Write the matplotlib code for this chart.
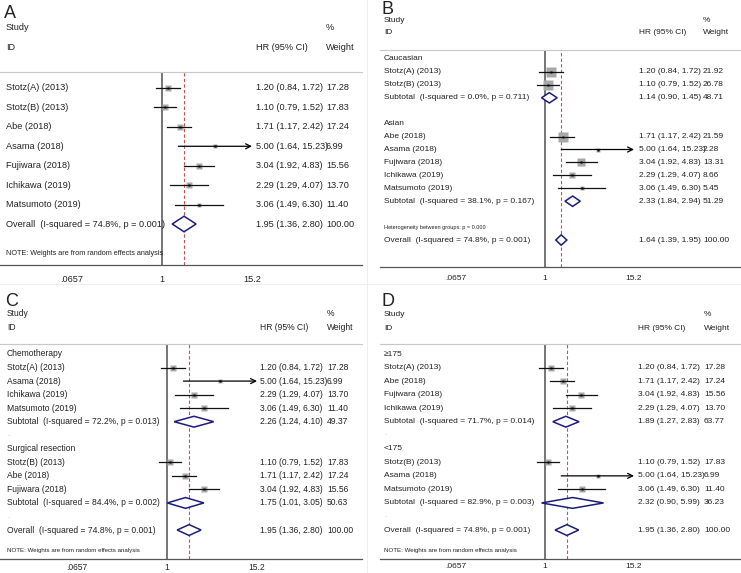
import matplotlib.pyplot as plt
from matplotlib.lines import Line2D
from matplotlib.transforms import blended_transform_factory
import numpy as np

plt.rcParams['font.family'] = ['Liberation Sans', 'DejaVu Sans']

# study level data
study = ["Stotz(A) (2013)", "Stotz(B) (2013)", "Abe (2018)", "Asama (2018)",
         "Fujiwara (2018)", "Ichikawa (2019)", "Matsumoto (2019)"]
hr = [1.20, 1.10, 1.71, 5.00, 3.04, 2.29, 3.06]
lo = [0.84, 0.79, 1.17, 1.64, 1.92, 1.29, 1.49]
hi = [1.72, 1.52, 2.42, 15.23, 4.83, 4.07, 6.30]
wt_all = [17.28, 17.83, 17.24, 6.99, 15.56, 13.70, 11.40]
wt_eth = [21.92, 26.78, 21.59, 2.28, 13.31, 8.66, 5.45]

# overall estimates
ov_all = (1.95, 1.36, 2.80)
ov_eth = (1.64, 1.39, 1.95)
ov_i2, ov_p = 74.8, 0.001

# B: ethnicity
eth_groups = ["Caucasian", "Asian"]
eth_members = [[0, 1], [2, 3, 4, 5, 6]]
eth_sub = [(1.14, 0.90, 1.45), (2.33, 1.84, 2.94)]
eth_sub_w = [48.71, 51.29]
eth_i2 = [0.0, 38.1]
eth_p = [0.711, 0.167]

# C: treatment
trt_groups = ["Chemotherapy", "Surgical resection"]
trt_members = [[0, 3, 5, 6], [1, 2, 4]]
trt_sub = [(2.26, 1.24, 4.10), (1.75, 1.01, 3.05)]
trt_sub_w = [49.37, 50.63]
trt_i2 = [72.2, 84.4]
trt_p = [0.013, 0.002]

# D: cut-off
cut_groups = ["≥175", "<175"]
cut_members = [[0, 2, 4, 5], [1, 3, 6]]
cut_sub = [(1.89, 1.27, 2.83), (2.32, 0.90, 5.99)]
cut_sub_w = [63.77, 36.23]
cut_i2 = [71.7, 82.9]
cut_p = [0.014, 0.003]

tick_vals = [0.0657, 1, 15.2]
tick_labels = [".0657", "1", "15.2"]
xcap = 15.2

W, H = 741, 573
fig = plt.figure(figsize=(W / 100, H / 100), dpi=100)

TXT = '#222222'
BOX = '#a8a8a8'
NAVY = '#1c1c7c'

# header positions (fig px): Study, ID, letter
top_hdr = {'A': (28, 47, 13), 'B': (21, 33, 9), 'C': (314, 328, 301), 'D': (314, 328, 301)}


def ci_text(e, l, h):
    return f"{e:.2f} ({l:.2f}, {h:.2f})"


def build_rows(groups=None, members=None, sub=None, sub_w=None, i2=None, pv=None,
               weights=wt_all, overall=ov_all, het=False):
    rows = []
    if groups is None:
        for i in range(len(study)):
            rows.append(('study', i, weights[i]))
        rows.append(('overall', overall, 100.0))
        rows.append(('note',))
        return rows
    for g in range(len(groups)):
        rows.append(('group', groups[g]))
        for i in members[g]:
            rows.append(('study', i, weights[i]))
        rows.append(('sub', sub[g], sub_w[g], i2[g], pv[g]))
        rows.append(('blank', not het))
    if het:
        rows.append(('het',))
    rows.append(('overall', overall, 100.0))
    if not het:
        rows.append(('note',))
    return rows


def draw_panel(letter, rows, box, one_px, top_px, row0, step, fs, note_fs,
               cols, ksize, ov_line, tpad):
    x0, y0, x1, y1 = box
    ax = fig.add_axes([x0 / W, 1 - y1 / H, (x1 - x0) / W, (y1 - y0) / H])
    ax.set_xscale('log')
    ppl = (top_px - one_px) / np.log(xcap)
    ax.set_xlim(np.exp((x0 - one_px) / ppl), np.exp((x1 - one_px) / ppl))
    ax.set_ylim((y1 - row0) / step, (y0 - row0) / step)
    for s in ['left', 'right']:
        ax.spines[s].set_visible(False)
    ax.spines['top'].set_color('#c8c8c8')
    ax.spines['top'].set_linewidth(0.8)
    ax.spines['bottom'].set_color('#555555')
    ax.spines['bottom'].set_linewidth(0.9)
    ax.set_yticks([])
    ax.set_xticks(tick_vals)
    ax.set_xticklabels(tick_labels)
    ax.xaxis.set_minor_locator(plt.NullLocator())
    ax.tick_params(axis='x', length=0, pad=tpad, labelsize=fs, labelcolor=TXT)
    ax.patch.set_alpha(0)

    ax.axvline(1, color='#6a6a6a', lw=1.3, zorder=1)
    ax.axvline(ov_line, color='#c85050', lw=0.8, ls=(0, (3, 2)), zorder=1)

    fx = lambda px: (px - x0) / (x1 - x0)
    lab_x, hr_x, w_x = cols
    tr = blended_transform_factory(ax.transAxes, ax.transData)
    yr = lambda py: (py - row0) / step

    kw = dict(transform=tr, va='center', ha='left', fontsize=fs, color=TXT, clip_on=False)
    ax.text(fx(lab_x), yr(top_hdr[letter][0]), "Study", **kw)
    ax.text(fx(lab_x), yr(top_hdr[letter][1]), "ID", **kw)
    ax.text(fx(w_x), yr(top_hdr[letter][0]), "%", **kw)
    ax.text(fx(hr_x), yr(top_hdr[letter][1]), "HR (95% CI)", **kw)
    ax.text(fx(w_x), yr(top_hdr[letter][1]), "Weight", **kw)
    ax.text(fx(lab_x - 2), yr(top_hdr[letter][2]), letter, transform=tr, va='center',
            ha='left', fontsize=13, color=TXT, clip_on=False)

    y = 0
    for r in rows:
        kind = r[0]
        if kind == 'study':
            i, w = r[1], r[2]
            ax.text(fx(lab_x), y, study[i], **kw)
            ax.text(fx(hr_x), y, ci_text(hr[i], lo[i], hi[i]), **kw)
            ax.text(fx(w_x), y, f"{w:.2f}", **kw)
            ax.plot([hr[i]], [y], marker='s', ms=ksize * np.sqrt(w) * 0.72,
                    color=BOX, mec='none', zorder=2)
            if hi[i] > xcap:
                ax.annotate('', xy=(xcap, y), xytext=(lo[i], y),
                            arrowprops=dict(arrowstyle='->', lw=0.9, color='black',
                                            shrinkA=0, shrinkB=0, mutation_scale=9),
                            zorder=3)
            else:
                ax.plot([lo[i], hi[i]], [y, y], color='#111111', lw=0.9, zorder=3)
            ax.plot([hr[i]], [y], marker='s', ms=1.6, color='black', mec='none', zorder=4)
        elif kind == 'group':
            ax.text(fx(lab_x), y, r[1], **kw)
        elif kind in ('sub', 'overall'):
            e, l, h = r[1]
            if kind == 'sub':
                label = f"Subtotal  (I-squared = {r[3]:.1f}%, p = {r[4]:.3f})"
            else:
                label = f"Overall  (I-squared = {ov_i2:.1f}%, p = {ov_p:.3f})"
            ax.text(fx(lab_x), y, label, **kw)
            ax.text(fx(hr_x), y, ci_text(e, l, h), **kw)
            ax.text(fx(w_x), y, f"{r[2]:.2f}", **kw)
            dh = 0.4
            ax.fill([l, e, h, e], [y, y - dh, y, y + dh], facecolor='white',
                    edgecolor=NAVY, lw=1.1, zorder=5)
        elif kind == 'blank':
            if r[1]:
                ax.text(fx(lab_x), y - 0.1, ".", transform=tr, va='center', ha='left',
                        fontsize=fs, color='#bbbbbb', clip_on=False)
        elif kind == 'het':
            ax.text(fx(lab_x), y, "Heterogeneity between groups: p = 0.000", transform=tr,
                    va='center', ha='left', fontsize=note_fs, color=TXT, clip_on=False)
        elif kind == 'note':
            y += 0.5
            ax.text(fx(lab_x), y, "NOTE: Weights are from random effects analysis",
                    transform=tr, va='center', ha='left', fontsize=note_fs, color=TXT,
                    clip_on=False)
        y += 1
    return ax


draw_panel('A', build_rows(), (0, 72, 362, 265), 162, 252, 88, 19.43, 6.6, 5.2,
           (6, 256, 326), 1.45, ov_all[0], 7)
draw_panel('B', build_rows(eth_groups, eth_members, eth_sub, eth_sub_w, eth_i2, eth_p,
                           weights=wt_eth, overall=ov_eth, het=True),
           (380, 50, 740, 267), 545, 634, 59, 12.93, 6.0, 4.0,
           (384, 639, 703), 2.1, ov_eth[0], 6)
draw_panel('C', build_rows(trt_groups, trt_members, trt_sub, trt_sub_w, trt_i2, trt_p),
           (0, 344, 362, 559), 167, 257, 354, 13.54, 6.15, 4.4,
           (7, 260, 327), 1.55, ov_all[0], 3)
draw_panel('D', build_rows(cut_groups, cut_members, cut_sub, cut_sub_w, cut_i2, cut_p),
           (380, 344, 741, 559), 545, 634, 354, 13.54, 6.0, 4.4,
           (384, 638, 704), 1.55, ov_all[0], 3)

# faint panel borders
fig.add_artist(Line2D([367 / W, 367 / W], [0, 1], color='#eeeeee', lw=0.8))
fig.add_artist(Line2D([0, 1], [1 - 284 / H, 1 - 284 / H], color='#eeeeee', lw=0.8))

fig.savefig('out.png', dpi=100)
